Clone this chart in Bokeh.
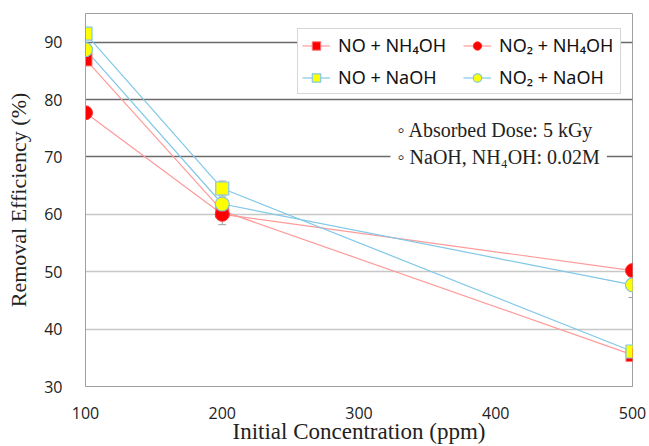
from bokeh.plotting import figure
from bokeh.models import (Range1d, FixedTicker, Grid, Legend, LegendItem, Label,
                          ColumnDataSource, Whisker, TeeHead)
from bokeh.embed import file_html
from bokeh.resources import INLINE

# ---- data ----
conc = [100, 200, 500]
no_nh4oh = [87.0, 60.6, 35.5]
no2_nh4oh = [77.7, 60.0, 50.2]
no_naoh = [91.5, 64.5, 36.1]
no2_naoh = [88.7, 61.8, 47.7]

# error bars (value, half-width) for the few visible whiskers
err_x = [200, 200, 500]
err_y = [64.5, 60.0, 47.7]
err_e = [1.3, 1.8, 2.2]

x_ticks = [100, 200, 300, 400, 500]
y_ticks = [30, 40, 50, 60, 70, 80, 90]
light_grid = [40, 50, 60]
dark_grid = [70, 80, 90]

labels = ["NO + NH\u2084OH", "NO\u2082 + NH\u2084OH", "NO + NaOH", "NO\u2082 + NaOH"]

RED_LINE = "#ff9a9a"
BLUE_LINE = "#80c8e8"

p = figure(width=649, height=446, output_backend="svg", toolbar_location=None,
           x_range=Range1d(100, 500), y_range=Range1d(30, 95),
           min_border_left=85, min_border_right=17, min_border_top=13,
           min_border_bottom=59)
p.background_fill_color = "white"
p.border_fill_color = "white"
p.outline_line_color = "#a0a0a0"
p.xgrid.visible = False
p.ygrid.visible = False

g1 = Grid(dimension=1, ticker=FixedTicker(ticks=light_grid),
          grid_line_color="#c8c8c8", grid_line_width=1.5)
g2 = Grid(dimension=1, ticker=FixedTicker(ticks=dark_grid),
          grid_line_color="#6a6a6a", grid_line_width=1.5)
p.add_layout(g1)
p.add_layout(g2)

for ax in (p.xaxis[0], p.yaxis[0]):
    ax.axis_line_color = "#a0a0a0"
    ax.major_tick_line_color = None
    ax.minor_tick_line_color = None
    ax.major_label_text_font = "Open Sans"
    ax.major_label_text_font_size = "16px"
    ax.major_label_text_color = "#222222"
    ax.axis_label_text_font = "Liberation Serif"
    ax.axis_label_text_font_style = "normal"
    ax.axis_label_text_color = "#222222"

p.xaxis.ticker = FixedTicker(ticks=x_ticks)
p.yaxis.ticker = FixedTicker(ticks=y_ticks)
p.xaxis.axis_label = "Initial Concentration (ppm)"
p.yaxis.axis_label = "Removal Efficiency (%)"
p.xaxis.axis_label_text_font_size = "23px"
p.yaxis.axis_label_text_font_size = "22px"
p.xaxis.major_label_standoff = 14
p.yaxis.major_label_standoff = 17
p.xaxis.axis_label_standoff = -3
p.yaxis.axis_label_standoff = 10

# lines
l1 = p.line(conc, no_nh4oh, line_color=RED_LINE, line_width=1.2)
l2 = p.line(conc, no2_nh4oh, line_color=RED_LINE, line_width=1.2)
l3 = p.line(conc, no_naoh, line_color=BLUE_LINE, line_width=1.2)
l4 = p.line(conc, no2_naoh, line_color=BLUE_LINE, line_width=1.2)

# error bars
esrc = ColumnDataSource(dict(x=err_x,
                             lo=[v - e for v, e in zip(err_y, err_e)],
                             hi=[v + e for v, e in zip(err_y, err_e)]))
wk = Whisker(source=esrc, base="x", lower="lo", upper="hi",
             line_color="#a0a0a0", line_width=1,
             upper_head=TeeHead(size=8, line_color="#a0a0a0"),
             lower_head=TeeHead(size=8, line_color="#a0a0a0"))
p.add_layout(wk)

# markers
s1 = p.scatter(conc, no_nh4oh, marker="square", size=13, fill_color="#ff0000",
               line_color="#ff7070", line_width=1)
s2 = p.scatter(conc, no2_nh4oh, marker="circle", size=14, fill_color="#ff0000",
               line_color="#ff3030", line_width=1)
s3 = p.scatter(conc, no_naoh, marker="square", size=13, fill_color="#ffff00",
               line_color="#80c8e8", line_width=1.2)
s4 = p.scatter(conc, no2_naoh, marker="circle", size=14, fill_color="#ffff00",
               line_color="#80c8d0", line_width=1.2)

# legend items ordered column-wise so rows read NH4OH / NaOH
legend = Legend(items=[LegendItem(label=labels[0], renderers=[l1, s1]),
                       LegendItem(label=labels[2], renderers=[l3, s3]),
                       LegendItem(label=labels[1], renderers=[l2, s2]),
                       LegendItem(label=labels[3], renderers=[l4, s4])],
                ncols=2, location=(212, 292),
                label_text_font="Noto Sans", label_text_font_size="18px",
                label_text_color="#111111",
                glyph_width=28, glyph_height=21, label_height=21,
                label_width=117, label_standoff=8,
                spacing=8, padding=4, margin=0,
                border_line_color="#b0b0b0", border_line_width=1,
                background_fill_color="white", background_fill_alpha=1.0)
p.add_layout(legend)

note = Label(x=305, y=275, x_units="screen", y_units="screen",
             text="\u25e6 Absorbed Dose: 5 kGy\n\u25e6 NaOH, NH\u2084OH: 0.02M",
             text_font="Liberation Serif", text_font_size="20px",
             text_color="#222222", text_align="left", text_baseline="top",
             background_fill_color="white", background_fill_alpha=1.0,
             padding=7, text_line_height=1.25)
p.add_layout(note)

open("out.html", "w").write(file_html(p, INLINE))
